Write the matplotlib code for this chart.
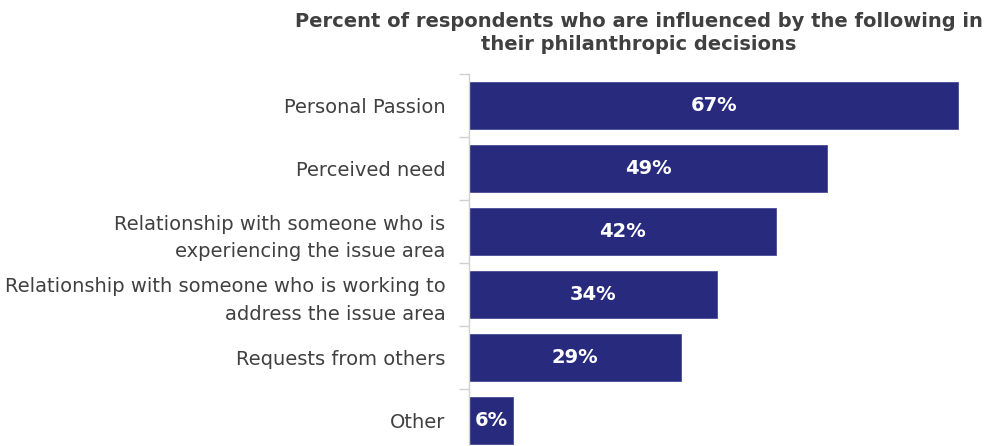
import numpy as np
import matplotlib.pyplot as plt

categories = [
    "Personal Passion",
    "Perceived need",
    "Relationship with someone who is\nexperiencing the issue area",
    "Relationship with someone who is working to\naddress the issue area",
    "Requests from others",
    "Other",
]
values = [67, 49, 42, 34, 29, 6]
title = "Percent of respondents who are influenced by the following in\ntheir philanthropic decisions"

bar_color = "#282a7e"
text_color = "#404040"
axis_color = "#d0d0d0"

plt.rcParams['font.family'] = ['DejaVu Sans']

fig = plt.figure(figsize=(9.89, 4.46), dpi=100)
# axes runs a little past the bottom edge so the last bar sits at the border
ax = fig.add_axes([469 / 989, -6 / 446, 520 / 989, 378 / 446])

y = np.arange(len(categories))
ax.barh(y, values, height=0.75, color=bar_color, edgecolor="#4a4c96", linewidth=0.6)
ax.set_xlim(0, 71.2)
ax.set_ylim(len(categories) - 0.5, -0.5)

for yi, v in zip(y, values):
    ax.text(v / 2, yi, f"{v}%", ha="center", va="center", color="white",
            fontsize=14, fontweight="bold")

ax.set_yticks(y)
ax.set_yticklabels(categories, fontsize=14, color=text_color, linespacing=1.55)
ax.tick_params(axis="y", which="major", length=0, pad=17)
ax.set_yticks(np.arange(-0.5, len(categories), 1), minor=True)
ax.tick_params(axis="y", which="minor", length=7, color=axis_color, width=1)
ax.set_xticks([])

for s in ["top", "right", "bottom"]:
    ax.spines[s].set_visible(False)
ax.spines["left"].set_color(axis_color)
ax.spines["left"].set_linewidth(1)

fig.text(0.6456, 0.972, title, ha="center", va="top", fontsize=14,
         fontweight="bold", color=text_color, linespacing=1.25)

fig.savefig("out.png", dpi=100)
